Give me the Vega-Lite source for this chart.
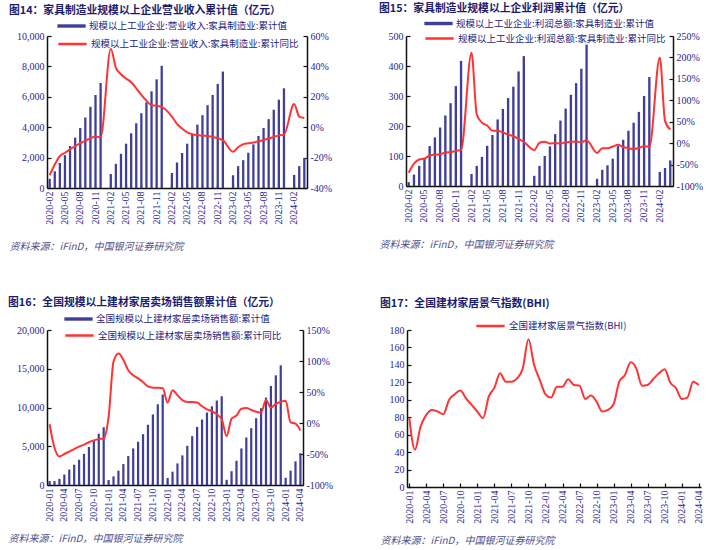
{
"$schema": "https://vega.github.io/schema/vega-lite/v6.json",
"background": "white",
"padding": {"left": 8, "top": 3, "right": 2, "bottom": 0},
"datasets": {
"p1": [
{"m":"2020-02","v":600,"r":-31.6},{"m":"2020-03","v":1100,"r":-24.5},{"m":"2020-04","v":1650,"r":-19},{"m":"2020-05","v":2160,"r":-16.8},{"m":"2020-06","v":2760,"r":-14.6},{"m":"2020-07","v":3310,"r":-12.4},{"m":"2020-08","v":3950,"r":-10.6},{"m":"2020-09","v":4640,"r":-9},{"m":"2020-10","v":5340,"r":-7.3},{"m":"2020-11","v":6120,"r":-6.2},{"m":"2020-12","v":6910,"r":-6.6},
{"m":"2021-02","v":920,"r":51.6},{"m":"2021-03","v":1590,"r":39.1},{"m":"2021-04","v":2250,"r":34.8},{"m":"2021-05","v":2915,"r":32},{"m":"2021-06","v":3600,"r":29.6},{"m":"2021-07","v":4260,"r":25.6},{"m":"2021-08","v":4920,"r":21.2},{"m":"2021-09","v":5630,"r":17.4},{"m":"2021-10","v":6360,"r":14.5},{"m":"2021-11","v":7150,"r":14.1},{"m":"2021-12","v":8040,"r":13.4},
{"m":"2022-02","v":990,"r":7},{"m":"2022-03","v":1680,"r":2.2},{"m":"2022-04","v":2300,"r":-0.9},{"m":"2022-05","v":2915,"r":-3.4},{"m":"2022-06","v":3510,"r":-4.6},{"m":"2022-07","v":4170,"r":-5.2},{"m":"2022-08","v":4790,"r":-5.5},{"m":"2022-09","v":5450,"r":-5.9},{"m":"2022-10","v":6120,"r":-6.4},{"m":"2022-11","v":6850,"r":-7.3},{"m":"2022-12","v":7660,"r":-8.5},
{"m":"2023-02","v":840,"r":-16.2},{"m":"2023-03","v":1440,"r":-13.2},{"m":"2023-04","v":1830,"r":-11.2},{"m":"2023-05","v":2320,"r":-10.6},{"m":"2023-06","v":2870,"r":-10.1},{"m":"2023-07","v":3420,"r":-9.3},{"m":"2023-08","v":3950,"r":-8.4},{"m":"2023-09","v":4530,"r":-7.4},{"m":"2023-10","v":5150,"r":-6.4},{"m":"2023-11","v":5810,"r":-5.4},{"m":"2023-12","v":6560,"r":-4.9},
{"m":"2024-02","v":860,"r":15.2},{"m":"2024-03","v":1440,"r":7},{"m":"2024-04","v":1970,"r":6.1}
],
"p2": [
{"m":"2020-02","v":12,"r":-69},{"m":"2020-03","v":38,"r":-48},{"m":"2020-04","v":67,"r":-38},{"m":"2020-05","v":92,"r":-36},{"m":"2020-06","v":133,"r":-29},{"m":"2020-07","v":162,"r":-27},{"m":"2020-08","v":195,"r":-26},{"m":"2020-09","v":235,"r":-22},{"m":"2020-10","v":276,"r":-21},{"m":"2020-11","v":333,"r":-18},{"m":"2020-12","v":417,"r":-16},
{"m":"2021-02","v":40,"r":211},{"m":"2021-03","v":67,"r":67},{"m":"2021-04","v":97,"r":48},{"m":"2021-05","v":134,"r":41},{"m":"2021-06","v":170,"r":29},{"m":"2021-07","v":222,"r":29},{"m":"2021-08","v":257,"r":25},{"m":"2021-09","v":293,"r":20},{"m":"2021-10","v":331,"r":16},{"m":"2021-11","v":382,"r":10},{"m":"2021-12","v":433,"r":3},
{"m":"2022-02","v":34,"r":-16},{"m":"2022-03","v":67,"r":1},{"m":"2022-04","v":100,"r":3},{"m":"2022-05","v":132,"r":-1},{"m":"2022-06","v":173,"r":0},{"m":"2022-07","v":218,"r":-1},{"m":"2022-08","v":258,"r":2},{"m":"2022-09","v":304,"r":3},{"m":"2022-10","v":343,"r":4},{"m":"2022-11","v":391,"r":2},{"m":"2022-12","v":471,"r":7},
{"m":"2023-02","v":24,"r":-23},{"m":"2023-03","v":54,"r":-12},{"m":"2023-04","v":69,"r":-12},{"m":"2023-05","v":91,"r":-8},{"m":"2023-06","v":133,"r":-4},{"m":"2023-07","v":154,"r":-9},{"m":"2023-08","v":184,"r":-12},{"m":"2023-09","v":211,"r":-14},{"m":"2023-10","v":247,"r":-11},{"m":"2023-11","v":300,"r":-7},{"m":"2023-12","v":363,"r":-9},
{"m":"2024-02","v":47,"r":200},{"m":"2024-03","v":60,"r":52},{"m":"2024-04","v":85,"r":32}
],
"p3": [
{"m":"2020-01","v":510,"r":-2},{"m":"2020-02","v":500,"r":-40},{"m":"2020-03","v":790,"r":-54},{"m":"2020-04","v":1350,"r":-50},{"m":"2020-05","v":1990,"r":-46},{"m":"2020-06","v":2620,"r":-42},{"m":"2020-07","v":3260,"r":-38},{"m":"2020-08","v":4020,"r":-35},{"m":"2020-09","v":4900,"r":-31},{"m":"2020-10","v":5670,"r":-28},{"m":"2020-11","v":6620,"r":-26},{"m":"2020-12","v":7450,"r":-25},
{"m":"2021-01","v":640,"r":10},{"m":"2021-02","v":1110,"r":99},{"m":"2021-03","v":1850,"r":112},{"m":"2021-04","v":2700,"r":102},{"m":"2021-05","v":3730,"r":85},{"m":"2021-06","v":4720,"r":77},{"m":"2021-07","v":5580,"r":72},{"m":"2021-08","v":6560,"r":66},{"m":"2021-09","v":7770,"r":59},{"m":"2021-10","v":9100,"r":57},{"m":"2021-11","v":10420,"r":57},{"m":"2021-12","v":11680,"r":56},
{"m":"2022-01","v":900,"r":33},{"m":"2022-02","v":1720,"r":53},{"m":"2022-03","v":2790,"r":45},{"m":"2022-04","v":3820,"r":37},{"m":"2022-05","v":5060,"r":34},{"m":"2022-06","v":6300,"r":34},{"m":"2022-07","v":7500,"r":33},{"m":"2022-08","v":8450,"r":27},{"m":"2022-09","v":9350,"r":22},{"m":"2022-10","v":10150,"r":19},{"m":"2022-11","v":10900,"r":14},{"m":"2022-12","v":11450,"r":6},
{"m":"2023-01","v":670,"r":-21},{"m":"2023-02","v":1780,"r":7},{"m":"2023-03","v":3130,"r":12},{"m":"2023-04","v":4720,"r":23},{"m":"2023-05","v":6130,"r":24},{"m":"2023-06","v":7330,"r":21},{"m":"2023-07","v":8620,"r":18},{"m":"2023-08","v":9910,"r":17},{"m":"2023-09","v":11280,"r":37},{"m":"2023-10","v":12780,"r":25},{"m":"2023-11","v":14150,"r":31},{"m":"2023-12","v":15440,"r":34},
{"m":"2024-01","v":930,"r":36},{"m":"2024-02","v":1860,"r":1},{"m":"2024-03","v":3045,"r":-1},{"m":"2024-04","v":4100,"r":-12}
],
"p4": [
{"m":"2020-01","b":79.6},{"m":"2020-02","b":42.7},{"m":"2020-03","b":69.3},{"m":"2020-04","b":82.7},{"m":"2020-05","b":88.4},{"m":"2020-06","b":86.5},{"m":"2020-07","b":83.4},{"m":"2020-08","b":99.8},{"m":"2020-09","b":106.3},{"m":"2020-10","b":110.5},{"m":"2020-11","b":101.7},{"m":"2020-12","b":94.1},
{"m":"2021-01","b":86.5},{"m":"2021-02","b":78.9},{"m":"2021-03","b":103.6},{"m":"2021-04","b":113.9},{"m":"2021-05","b":130.3},{"m":"2021-06","b":120.8},{"m":"2021-07","b":120.8},{"m":"2021-08","b":124.6},{"m":"2021-09","b":136},{"m":"2021-10","b":169.5},{"m":"2021-11","b":139.8},{"m":"2021-12","b":122.7},
{"m":"2022-01","b":106.3},{"m":"2022-02","b":102.5},{"m":"2022-03","b":115},{"m":"2022-04","b":115},{"m":"2022-05","b":123.4},{"m":"2022-06","b":117},{"m":"2022-07","b":116.2},{"m":"2022-08","b":101},{"m":"2022-09","b":104.8},{"m":"2022-10","b":97.9},{"m":"2022-11","b":86.5},{"m":"2022-12","b":88.4},
{"m":"2023-01","b":94.9},{"m":"2023-02","b":120.8},{"m":"2023-03","b":128.4},{"m":"2023-04","b":142.9},{"m":"2023-05","b":136},{"m":"2023-06","b":116.2},{"m":"2023-07","b":117},{"m":"2023-08","b":123.8},{"m":"2023-09","b":130.3},{"m":"2023-10","b":134.9},{"m":"2023-11","b":119.6},{"m":"2023-12","b":113.2},
{"m":"2024-01","b":101},{"m":"2024-02","b":102.5},{"m":"2024-03","b":120.8},{"m":"2024-04","b":117}
]
},
"config": {
"font": "Liberation Serif",
"view": {"stroke": null},
"axis": {"grid": false, "domainColor": "#111111", "domainWidth": 1.5, "tickColor": "#111111", "tickSize": -4, "tickWidth": 1.2, "labelColor": "#25258f", "labelFont": "Liberation Serif", "labelFontSize": 10, "labelPadding": 7},
"title": {"font": "Noto Sans CJK SC", "fontSize": 10.8, "fontWeight": "bold", "color": "#1c1c6e", "anchor": "start"},
"legend": {"labelFont": "Noto Sans CJK SC", "labelFontSize": 9.5, "labelColor": "#1c1c80", "labelLimit": 500, "labelOffset": 3, "title": null, "orient": "none", "symbolSize": 800, "rowPadding": 2, "padding": 0}
},
"spacing": 45,
"resolve": {"scale": {"fill": "independent", "stroke": "independent"}, "legend": {"fill": "independent", "stroke": "independent"}},
"vconcat": [
{
"spacing": 47,
"resolve": {"scale": {"fill": "independent", "stroke": "independent"}, "legend": {"fill": "independent", "stroke": "independent"}},
"hconcat": [
{
"title": {"text": "图14：家具制造业规模以上企业营业收入累计值（亿元）", "offset": -4.5},
"width": 260, "height": 152,
"data": {"name": "p1"},
"layer": [
{"mark": {"type": "bar"},
"encoding": {
"x": {"field": "m", "type": "ordinal", "scale": {"domain": ["2020-02","2020-03","2020-04","2020-05","2020-06","2020-07","2020-08","2020-09","2020-10","2020-11","2020-12","2021-01","2021-02","2021-03","2021-04","2021-05","2021-06","2021-07","2021-08","2021-09","2021-10","2021-11","2021-12","2022-01","2022-02","2022-03","2022-04","2022-05","2022-06","2022-07","2022-08","2022-09","2022-10","2022-11","2022-12","2023-01","2023-02","2023-03","2023-04","2023-05","2023-06","2023-07","2023-08","2023-09","2023-10","2023-11","2023-12","2024-01","2024-02","2024-03","2024-04"], "paddingInner": 0.55, "paddingOuter": 0.3},
"axis": {"values": ["2020-02","2020-05","2020-08","2020-11","2021-02","2021-05","2021-08","2021-11","2022-02","2022-05","2022-08","2022-11","2023-02","2023-05","2023-08","2023-11","2024-02"], "labelAngle": 270, "title": "资料来源：iFinD，中国银河证券研究院", "titleFont": "Noto Sans CJK SC", "titleFontSize": 10, "titleFontWeight": "normal", "titleFontStyle": "italic", "titleColor": "#50508a", "titleAnchor": "start", "titleAlign": "left", "titleX": -38, "titlePadding": 17}},
"y": {"field": "v", "type": "quantitative", "scale": {"domain": [0, 10000]}, "axis": {"values": [0,2000,4000,6000,8000,10000], "format": ",d", "title": null}},
"fill": {"datum": "规模以上工业企业:营业收入:家具制造业:累计值", "scale": {"range": ["#3f3f9a"]}, "legend": {"legendX": 10, "legendY": -24.5, "symbolType": "M-1,-0.12H1V0.12H-1Z", "symbolStrokeWidth": 0}}
}},
{"mark": {"type": "line", "interpolate": "monotone", "strokeWidth": 2},
"encoding": {
"x": {"field": "m", "type": "ordinal"},
"y": {"field": "r", "type": "quantitative", "scale": {"domain": [-40, 60]}, "axis": {"orient": "right", "values": [-40,-20,0,20,40,60], "labelExpr": "datum.value + '%'", "title": null}},
"stroke": {"datum": "规模以上工业企业:营业收入:家具制造业:累计同比", "scale": {"range": ["#ff3333"]}, "legend": {"legendX": 10, "legendY": -7.5, "symbolType": "stroke", "symbolStrokeWidth": 2.5}}
}}
],
"resolve": {"scale": {"y": "independent"}}
},
{
"title": {"text": "图15：家具制造业规模以上企业利润累计值（亿元）", "offset": -5},
"width": 267, "height": 150,
"data": {"name": "p2"},
"layer": [
{"mark": {"type": "bar"},
"encoding": {
"x": {"field": "m", "type": "ordinal", "scale": {"domain": ["2020-02","2020-03","2020-04","2020-05","2020-06","2020-07","2020-08","2020-09","2020-10","2020-11","2020-12","2021-01","2021-02","2021-03","2021-04","2021-05","2021-06","2021-07","2021-08","2021-09","2021-10","2021-11","2021-12","2022-01","2022-02","2022-03","2022-04","2022-05","2022-06","2022-07","2022-08","2022-09","2022-10","2022-11","2022-12","2023-01","2023-02","2023-03","2023-04","2023-05","2023-06","2023-07","2023-08","2023-09","2023-10","2023-11","2023-12","2024-01","2024-02","2024-03","2024-04"], "paddingInner": 0.55, "paddingOuter": 0.3},
"axis": {"values": ["2020-02","2020-05","2020-08","2020-11","2021-02","2021-05","2021-08","2021-11","2022-02","2022-05","2022-08","2022-11","2023-02","2023-05","2023-08","2023-11","2024-02"], "labelAngle": 270, "title": "资料来源：iFinD，中国银河证券研究院", "titleFont": "Noto Sans CJK SC", "titleFontSize": 10, "titleFontWeight": "normal", "titleFontStyle": "italic", "titleColor": "#50508a", "titleAnchor": "start", "titleAlign": "left", "titleX": -27, "titlePadding": 17}},
"y": {"field": "v", "type": "quantitative", "scale": {"domain": [0, 500]}, "axis": {"values": [0,100,200,300,400,500], "title": null}},
"fill": {"datum": "规模以上工业企业:利润总额:家具制造业:累计值", "scale": {"range": ["#3f3f9a"]}, "legend": {"legendX": 18, "legendY": -27, "symbolType": "M-1,-0.12H1V0.12H-1Z", "symbolStrokeWidth": 0}}
}},
{"mark": {"type": "line", "interpolate": "monotone", "strokeWidth": 2},
"encoding": {
"x": {"field": "m", "type": "ordinal"},
"y": {"field": "r", "type": "quantitative", "scale": {"domain": [-100, 250]}, "axis": {"orient": "right", "values": [-100,-50,0,50,100,150,200,250], "labelExpr": "datum.value + '%'", "title": null}},
"stroke": {"datum": "规模以上工业企业:利润总额:家具制造业:累计同比", "scale": {"range": ["#ff3333"]}, "legend": {"legendX": 18, "legendY": -13, "symbolType": "stroke", "symbolStrokeWidth": 2.5}}
}}
],
"resolve": {"scale": {"y": "independent"}}
}
]
},
{
"spacing": 47,
"resolve": {"scale": {"fill": "independent", "stroke": "independent"}, "legend": {"fill": "independent", "stroke": "independent"}},
"hconcat": [
{
"title": {"text": "图16：全国规模以上建材家居卖场销售额累计值（亿元）", "offset": -3.5},
"width": 256, "height": 155,
"data": {"name": "p3"},
"layer": [
{"mark": {"type": "bar"},
"encoding": {
"x": {"field": "m", "type": "ordinal", "scale": {"paddingInner": 0.55, "paddingOuter": 0.3},
"axis": {"values": ["2020-01","2020-04","2020-07","2020-10","2021-01","2021-04","2021-07","2021-10","2022-01","2022-04","2022-07","2022-10","2023-01","2023-04","2023-07","2023-10","2024-01","2024-04"], "labelAngle": 270, "title": "资料来源：iFinD，中国银河证券研究院", "titleFont": "Noto Sans CJK SC", "titleFontSize": 10, "titleFontWeight": "normal", "titleFontStyle": "italic", "titleColor": "#50508a", "titleAnchor": "start", "titleAlign": "left", "titleX": -39, "titlePadding": 12}},
"y": {"field": "v", "type": "quantitative", "scale": {"domain": [0, 20000]}, "axis": {"values": [0,5000,10000,15000,20000], "format": ",d", "title": null}},
"fill": {"datum": "全国规模以上建材家居卖场销售额:累计值", "scale": {"range": ["#3f3f9a"]}, "legend": {"legendX": 17, "legendY": -25.5, "symbolType": "M-1,-0.12H1V0.12H-1Z", "symbolStrokeWidth": 0}}
}},
{"mark": {"type": "line", "interpolate": "monotone", "strokeWidth": 2},
"encoding": {
"x": {"field": "m", "type": "ordinal"},
"y": {"field": "r", "type": "quantitative", "scale": {"domain": [-100, 150]}, "axis": {"orient": "right", "values": [-100,-50,0,50,100,150], "labelExpr": "datum.value + '%'", "title": null}},
"stroke": {"datum": "全国规模以上建材家居卖场销售额:累计同比", "scale": {"range": ["#ff3333"]}, "legend": {"legendX": 17, "legendY": -10, "symbolType": "stroke", "symbolStrokeWidth": 2.5}}
}}
],
"resolve": {"scale": {"y": "independent"}}
},
{
"title": {"text": "图17：全国建材家居景气指数(BHI)", "offset": 2},
"width": 294, "height": 157,
"data": {"name": "p4"},
"mark": {"type": "line", "interpolate": "monotone", "strokeWidth": 2},
"encoding": {
"x": {"field": "m", "type": "ordinal", "scale": {"padding": 0.4},
"axis": {"values": ["2020-01","2020-04","2020-07","2020-10","2021-01","2021-04","2021-07","2021-10","2022-01","2022-04","2022-07","2022-10","2023-01","2023-04","2023-07","2023-10","2024-01","2024-04"], "labelAngle": 270, "title": "资料来源：iFinD，中国银河证券研究院", "titleFont": "Noto Sans CJK SC", "titleFontSize": 10, "titleFontWeight": "normal", "titleFontStyle": "italic", "titleColor": "#50508a", "titleAnchor": "start", "titleAlign": "left", "titleX": -27, "titlePadding": 12}},
"y": {"field": "b", "type": "quantitative", "scale": {"domain": [0, 180]}, "axis": {"values": [0,20,40,60,80,100,120,140,160,180], "title": null}},
"stroke": {"datum": "全国建材家居景气指数(BHI)", "scale": {"range": ["#ff3333"]}, "legend": {"legendX": 68, "legendY": -19.5, "symbolType": "stroke", "symbolStrokeWidth": 2.5}}
}
}
]
}
]
}
